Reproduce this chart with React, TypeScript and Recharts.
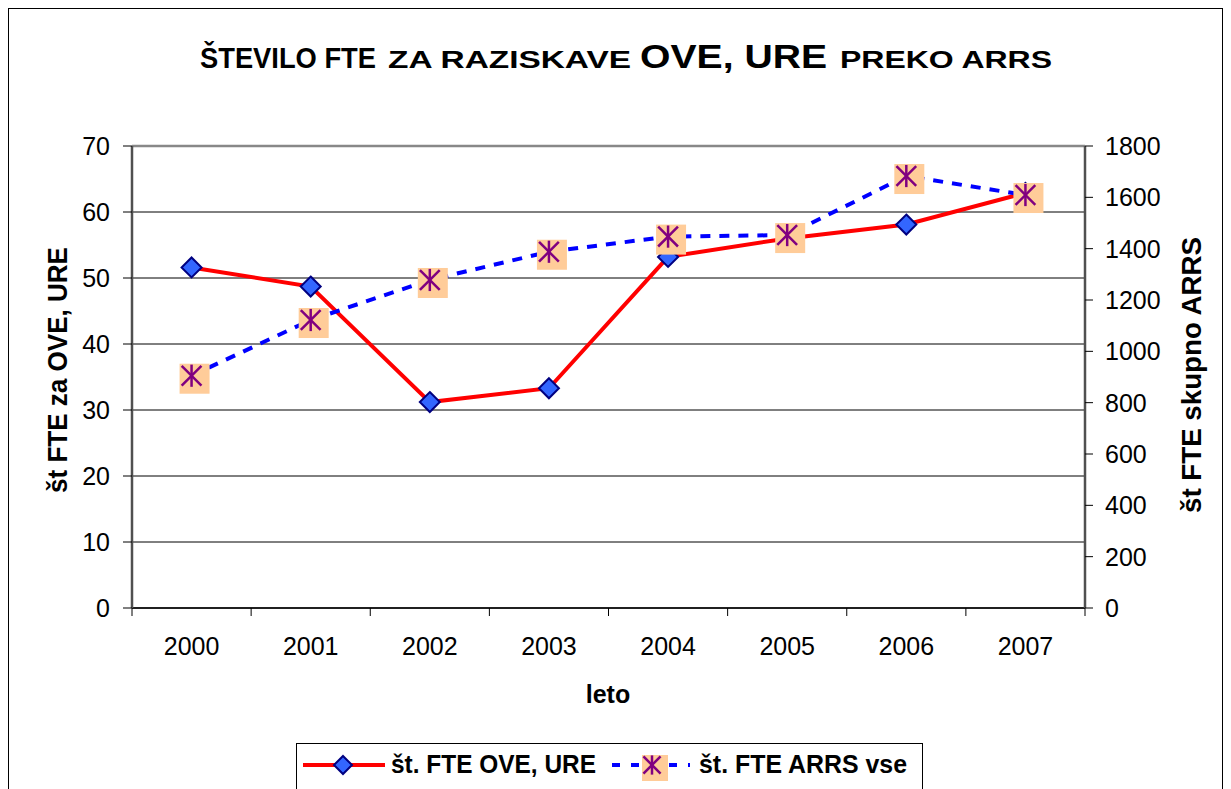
import React from "react";
import {
  ComposedChart,
  Line,
  XAxis,
  YAxis,
  CartesianGrid,
  ReferenceLine,
  Label,
} from "recharts";

const years = ["2000", "2001", "2002", "2003", "2004", "2005", "2006", "2007"];
const fteOveUre = [51.6, 48.7, 31.2, 33.3, 53.2, 56.0, 58.1, 62.9];
const fteArrs = [905, 1122, 1278, 1388, 1447, 1453, 1683, 1609];
const leftTicks = [0, 10, 20, 30, 40, 50, 60, 70];
const rightTicks = [0, 200, 400, 600, 800, 1000, 1200, 1400, 1600, 1800];

const data = years.map((year, i) => ({
  year,
  ove: fteOveUre[i],
  arrs: fteArrs[i],
}));

const FONT = "'Liberation Sans', Arial, sans-serif";
const W = 1213;
const H = 780;
const PLOT_LEFT = 123;
const PLOT_RIGHT = 1076;
const BAND = (PLOT_RIGHT - PLOT_LEFT) / years.length;

function Diamond({ cx, cy, r = 10 }: { cx: number; cy: number; r?: number }) {
  return (
    <polygon
      points={`${cx},${cy - r} ${cx + r},${cy} ${cx},${cy + r} ${cx - r},${cy}`}
      fill="#3366FF"
      stroke="#000080"
      strokeWidth={2}
    />
  );
}

function StarBox({ cx, cy, s = 30 }: { cx: number; cy: number; s?: number }) {
  const a = s * 0.37;
  const d = s * 0.33;
  return (
    <g>
      <rect x={cx - s / 2 + 3} y={cy - s / 2 + 3} width={s} height={s} fill="#FFCC99" />
      <g stroke="#800080" strokeWidth={2.5}>
        <line x1={cx} y1={cy - a} x2={cx} y2={cy + a} />
        <line x1={cx - d} y1={cy - d} x2={cx + d} y2={cy + d} />
        <line x1={cx - d} y1={cy + d} x2={cx + d} y2={cy - d} />
      </g>
    </g>
  );
}

function YearTick(props: any) {
  const { x, y, payload, index } = props;
  return (
    <g>
      <line x1={x - BAND / 2} y1={y} x2={x - BAND / 2} y2={y + 8} stroke="#000" />
      {index === years.length - 1 && (
        <line x1={x + BAND / 2} y1={y} x2={x + BAND / 2} y2={y + 8} stroke="#000" />
      )}
      <text x={x} y={y + 47} textAnchor="middle" fontSize={25} fontFamily={FONT} fill="#000">
        {payload.value}
      </text>
    </g>
  );
}

export default function App() {
  return (
    <div
      style={{
        position: "relative",
        width: W,
        height: 781,
        borderLeft: "1px solid #000",
        borderTop: "1px solid #000",
        borderRight: "1px solid #000",
        background: "#fff",
        overflow: "hidden",
      }}
    >
      <svg
        width={W}
        height={100}
        style={{ position: "absolute", left: 0, top: 0 }}
        fontFamily={FONT}
        fontWeight="bold"
      >
        {/* title in one text, mixed sizes like the Excel original */}
        <text y={59}>
          <tspan x={191} fontSize={29} textLength={176} lengthAdjust="spacingAndGlyphs">
            ŠTEVILO FTE
          </tspan>
          <tspan x={379} fontSize={23} textLength={243} lengthAdjust="spacingAndGlyphs">
            ZA RAZISKAVE
          </tspan>
          <tspan x={631} fontSize={33} textLength={187} lengthAdjust="spacingAndGlyphs">
            OVE, URE
          </tspan>
          <tspan x={831} fontSize={23} textLength={212} lengthAdjust="spacingAndGlyphs">
            PREKO ARRS
          </tspan>
        </text>
      </svg>

      <ComposedChart
        width={W}
        height={H}
        data={data}
        margin={{ top: 137, right: 0, bottom: 0, left: 0 }}
      >
        <CartesianGrid yAxisId="left" vertical={false} stroke="#000" />
        <XAxis
          dataKey="year"
          height={H - 599}
          padding={{ left: BAND / 2, right: BAND / 2 }}
          tickSize={0}
          tickMargin={0}
          tickLine={false}
          axisLine={{ stroke: "#000", strokeWidth: 1.5 }}
          tick={<YearTick />}
          interval={0}
        >
          <Label
            content={() => (
              <text x={599} y={694} textAnchor="middle" fontSize={25} fontWeight="bold" fontFamily={FONT}>
                leto
              </text>
            )}
          />
        </XAxis>
        <YAxis
          yAxisId="left"
          width={PLOT_LEFT}
          domain={[0, 70]}
          ticks={leftTicks}
          interval={0}
          tickSize={9}
          tickMargin={13}
          tickLine={{ stroke: "#000" }}
          axisLine={{ stroke: "#505050", strokeWidth: 2.5 }}
          tick={{ fill: "#000", fontSize: 25, fontFamily: FONT }}
        >
          <Label
            content={() => (
              <text
                x={0}
                y={0}
                transform="translate(49, 361) rotate(-90)"
                textAnchor="middle"
                fontSize={27}
                fontWeight="bold"
                fontFamily={FONT}
                textLength={246}
                lengthAdjust="spacingAndGlyphs"
                dy={9}
              >
                št FTE za OVE, URE
              </text>
            )}
          />
        </YAxis>
        <YAxis
          yAxisId="right"
          orientation="right"
          width={W - PLOT_RIGHT}
          domain={[0, 1800]}
          ticks={rightTicks}
          interval={0}
          tickSize={8}
          tickMargin={12}
          tickLine={{ stroke: "#000" }}
          axisLine={{ stroke: "#505050", strokeWidth: 2.5 }}
          tick={{ fill: "#000", fontSize: 25, fontFamily: FONT }}
        >
          <Label
            content={() => (
              <text
                x={0}
                y={0}
                transform="translate(1183, 366) rotate(-90)"
                textAnchor="middle"
                fontSize={27}
                fontWeight="bold"
                fontFamily={FONT}
                textLength={276}
                lengthAdjust="spacingAndGlyphs"
                dy={9}
              >
                št FTE skupno ARRS
              </text>
            )}
          />
        </YAxis>
        <ReferenceLine yAxisId="left" y={70} stroke="#888" strokeWidth={2.5} />
        <Line
          yAxisId="left"
          dataKey="ove"
          stroke="#FF0000"
          strokeWidth={4}
          isAnimationActive={false}
          dot={(p: any) => <Diamond key={`d${p.index}`} cx={p.cx} cy={p.cy} />}
          activeDot={false}
        />
        <Line
          yAxisId="right"
          dataKey="arrs"
          stroke="#0000FF"
          strokeWidth={4}
          strokeDasharray="10 9"
          isAnimationActive={false}
          dot={(p: any) => <StarBox key={`s${p.index}`} cx={p.cx} cy={p.cy} />}
          activeDot={false}
        />
      </ComposedChart>

      <svg
        width={628}
        height={50}
        style={{ position: "absolute", left: 287, top: 734 }}
        fontFamily={FONT}
        fontWeight="bold"
      >
        <rect x={0.5} y={0.5} width={626} height={60} fill="#fff" stroke="#000" />
        <line x1={7} y1={22} x2={89} y2={22} stroke="#FF0000" strokeWidth={4} />
        <Diamond cx={47} cy={22} r={9} />
        <text x={95} y={30} fontSize={25} textLength={205} lengthAdjust="spacingAndGlyphs">
          št. FTE OVE, URE
        </text>
        <line x1={316} y1={22} x2={394} y2={22} stroke="#0000FF" strokeWidth={4} strokeDasharray="8 11" />
        <StarBox cx={356} cy={22} s={26} />
        <text x={403} y={30} fontSize={25} textLength={208} lengthAdjust="spacingAndGlyphs">
          št. FTE ARRS vse
        </text>
      </svg>
    </div>
  );
}
